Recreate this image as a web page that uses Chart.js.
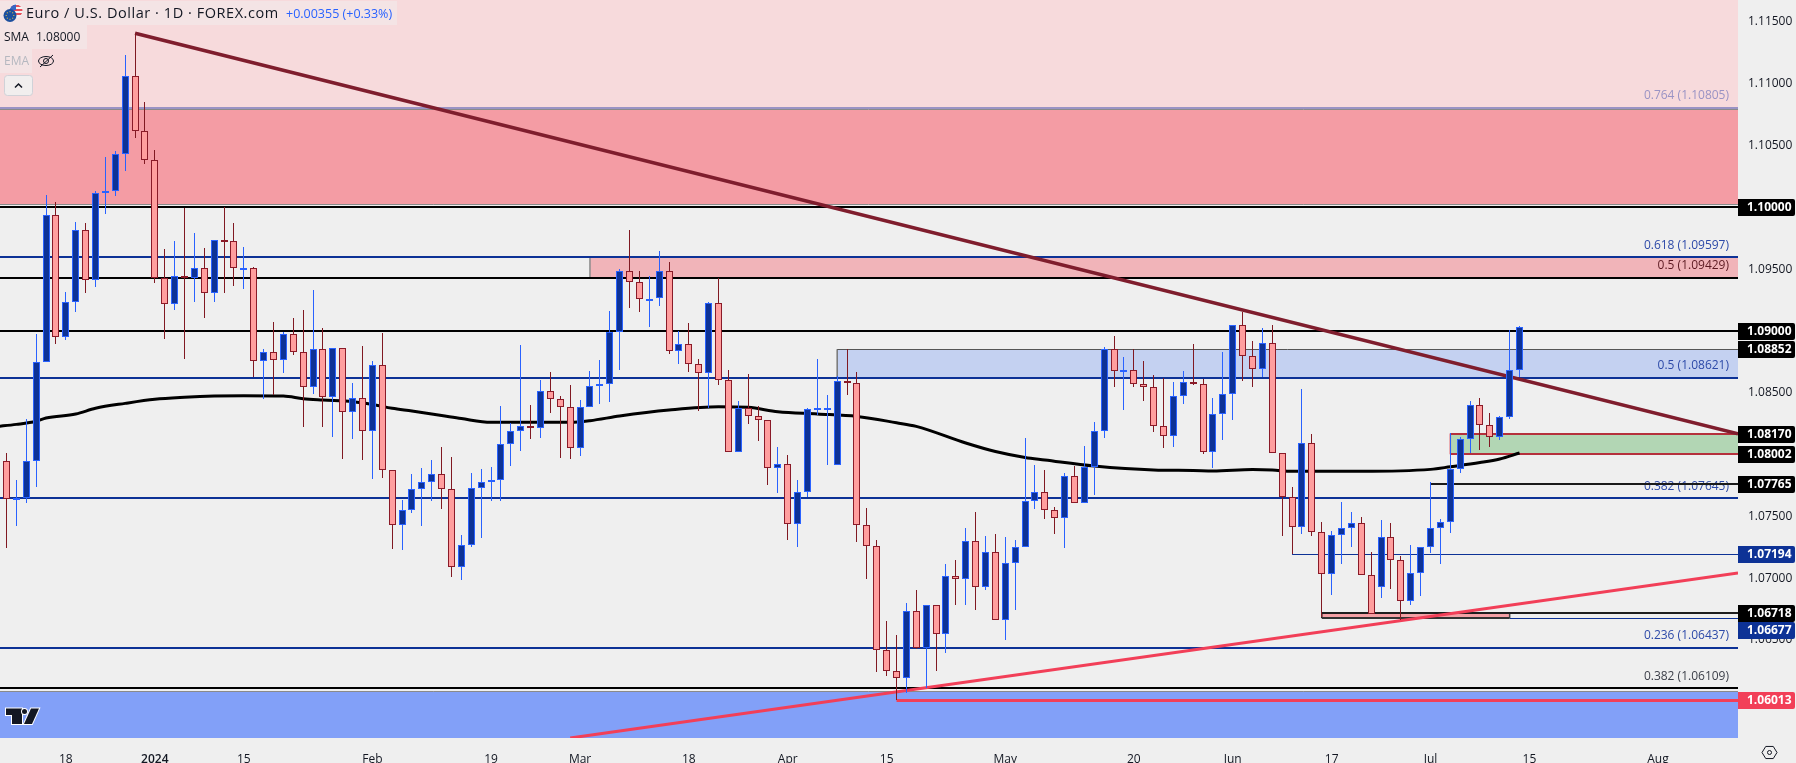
<!DOCTYPE html>
<html>
<head>
<meta charset="utf-8">
<title>EUR/USD 1D</title>
<script src="https://cdn.jsdelivr.net/npm/chart.js@4"></script>
<style>
  html, body { margin: 0; padding: 0; background: #efefef; overflow: hidden; }
  canvas { display: block; }
</style>
</head>
<body>
<canvas id="grafica" width="1796" height="763"></canvas>
<script>
// daily candles, bar 0 is 8 Dec 2023, bar 153 is 12 Jul 2024
const opens = [
  1.07945,1.07638,1.07646,1.07945,1.08746,1.09935,1.08948,1.09236,1.09814,1.09409,
  1.10113,1.10129,1.10429,1.11060,1.10615,1.10380,1.09426,1.09215,1.09447,1.09426,
  1.09506,1.09309,1.09733,1.09725,1.09505,1.09506,1.08754,1.08827,1.08762,1.08973,
  1.08827,1.08544,1.08851,1.08463,1.08859,1.08341,1.08455,1.08188,1.08722,1.07872,
  1.07427,1.07549,1.07719,1.07775,1.07840,1.07719,1.07088,1.07266,1.07727,1.07775,
  1.07791,1.08083,1.08188,1.08228,1.08212,1.08511,1.08447,1.08382,1.08050,1.08382,
  1.08552,1.08568,1.08989,1.09482,1.09393,1.09255,1.09264,1.09482,1.08835,1.08892,
  1.08730,1.08657,1.09223,1.08600,1.08018,1.08374,1.08309,1.08277,1.07888,1.07921,
  1.07435,1.07694,1.08366,1.08372,1.07913,1.08592,1.08576,1.07427,1.07257,1.06416,
  1.06246,1.06190,1.06732,1.06432,1.06780,1.06546,1.07015,1.06990,1.07298,1.06926,
  1.07209,1.06659,1.07120,1.07249,1.07621,1.07694,1.07549,1.07484,1.07824,1.07605,
  1.07897,1.08188,1.08851,1.08676,1.08681,1.08568,1.08544,1.08228,1.08147,1.08471,
  1.08584,1.08568,1.08018,1.08325,1.08487,1.09045,1.08795,1.08689,1.08900,1.08010,
  1.07654,1.07411,1.08091,1.07371,1.07031,1.07346,1.07403,1.07443,1.07023,1.06926,
  1.07330,1.07144,1.06812,1.07039,1.07249,1.07403,1.07452,1.07880,1.08123,1.08398,
  1.08236,1.08139,1.08301,1.08684
];
const highs = [
  1.08012,1.07794,1.08285,1.08973,1.10097,1.10043,1.09312,1.09881,1.09871,1.10129,
  1.10407,1.10453,1.11232,1.11408,1.10852,1.10461,1.09660,1.09725,1.09992,1.09790,
  1.09668,1.09733,1.10000,1.09871,1.09676,1.09515,1.08851,1.09070,1.08989,1.09102,
  1.09167,1.09328,1.09021,1.08859,1.08859,1.08576,1.08875,1.08754,1.08983,1.07872,
  1.07630,1.07840,1.07888,1.07956,1.08058,1.07980,1.07349,1.07848,1.07880,1.07897,
  1.08392,1.08253,1.08886,1.08398,1.08600,1.08665,1.08471,1.08560,1.08439,1.08673,
  1.08762,1.09159,1.09498,1.09814,1.09482,1.09442,1.09644,1.09555,1.08997,1.09062,
  1.08770,1.09231,1.09432,1.08681,1.08430,1.08649,1.08390,1.08277,1.08058,1.07994,
  1.07791,1.08374,1.08770,1.08479,1.08635,1.08851,1.08665,1.07565,1.07306,1.06651,
  1.06537,1.06796,1.06901,1.06780,1.06780,1.07112,1.07144,1.07403,1.07532,1.07338,
  1.07354,1.07330,1.07306,1.08131,1.07913,1.07872,1.07573,1.07848,1.07905,1.08066,
  1.08261,1.08867,1.08956,1.08786,1.08851,1.08754,1.08641,1.08621,1.08584,1.08673,
  1.08892,1.08608,1.08455,1.08827,1.09045,1.09150,1.08916,1.09021,1.09045,1.08010,
  1.07735,1.08528,1.08164,1.07452,1.07379,1.07613,1.07532,1.07492,1.07209,1.07468,
  1.07443,1.07177,1.07266,1.07249,1.07775,1.07476,1.08172,1.08139,1.08430,1.08455,
  1.08333,1.08309,1.09007,1.09040
];
const lows = [
  1.07246,1.07424,1.07610,1.07740,1.08746,1.08896,1.08929,1.09155,1.09307,1.09358,
  1.09948,1.10094,1.10294,1.10563,1.10353,1.09390,1.08937,1.09172,1.08775,1.09236,
  1.09107,1.09236,1.09307,1.09363,1.09341,1.08629,1.08452,1.08479,1.08662,1.08807,
  1.08225,1.08492,1.08225,1.08139,1.07966,1.08128,1.07956,1.07804,1.07812,1.07238,
  1.07230,1.07529,1.07424,1.07626,1.07562,1.07011,1.06985,1.07254,1.07327,1.07626,
  1.07626,1.07909,1.08031,1.08128,1.08136,1.08338,1.07974,1.07966,1.07990,1.08382,
  1.08411,1.08427,1.08686,1.09188,1.09155,1.09034,1.09204,1.08816,1.08735,1.08670,
  1.08354,1.08374,1.08562,1.08018,1.08018,1.08249,1.08112,1.07756,1.07691,1.07311,
  1.07254,1.07654,1.08320,1.07915,1.07913,1.08484,1.07295,1.06995,1.06238,1.06211,
  1.06016,1.06068,1.06424,1.06109,1.06246,1.06392,1.06785,1.06785,1.06745,1.06906,
  1.06659,1.06502,1.06745,1.07249,1.07559,1.07481,1.07359,1.07246,1.07605,1.07605,
  1.07675,1.08136,1.08549,1.08363,1.08549,1.08435,1.08185,1.08055,1.08063,1.08411,
  1.08560,1.08007,1.07893,1.08120,1.08282,1.08597,1.08549,1.08629,1.08010,1.07338,
  1.07193,1.07354,1.07338,1.06683,1.06866,1.07112,1.07252,1.07023,1.06707,1.06842,
  1.06914,1.06661,1.06780,1.06858,1.07206,1.07112,1.07367,1.07848,1.08010,1.08039,
  1.08063,1.08120,1.08285,1.08627
];
const closes = [
  1.07638,1.07646,1.07945,1.08746,1.09935,1.08948,1.09236,1.09814,1.09409,1.10113,
  1.10129,1.10429,1.11060,1.10615,1.10380,1.09426,1.09215,1.09447,1.09426,1.09506,
  1.09309,1.09733,1.09728,1.09506,1.09510,1.08754,1.08827,1.08762,1.08973,1.08827,
  1.08544,1.08851,1.08463,1.08859,1.08341,1.08455,1.08188,1.08722,1.07872,1.07427,
  1.07549,1.07719,1.07775,1.07840,1.07719,1.07088,1.07266,1.07727,1.07775,1.07791,
  1.08083,1.08188,1.08228,1.08212,1.08511,1.08447,1.08382,1.08050,1.08382,1.08552,
  1.08568,1.08989,1.09482,1.09393,1.09256,1.09260,1.09482,1.08835,1.08892,1.08730,
  1.08657,1.09223,1.08600,1.08018,1.08374,1.08309,1.08277,1.07888,1.07921,1.07435,
  1.07694,1.08366,1.08374,1.08377,1.08592,1.08576,1.07427,1.07257,1.06416,1.06246,
  1.06190,1.06732,1.06432,1.06780,1.06546,1.07015,1.06990,1.07298,1.06926,1.07209,
  1.06659,1.07120,1.07249,1.07621,1.07694,1.07549,1.07484,1.07824,1.07605,1.07897,
  1.08188,1.08851,1.08673,1.08681,1.08568,1.08544,1.08228,1.08147,1.08471,1.08584,
  1.08568,1.08018,1.08325,1.08487,1.09045,1.08795,1.08689,1.08900,1.08010,1.07654,
  1.07411,1.08091,1.07371,1.07031,1.07346,1.07403,1.07443,1.07023,1.06707,1.07330,
  1.07144,1.06812,1.07039,1.07249,1.07403,1.07452,1.07880,1.08123,1.08398,1.08236,
  1.08139,1.08301,1.08684,1.09034
];

// 200 day average at these bars
const smaBars = [-1,1,3,4,7,9,12,15,18,21,24,28,30,32,35,37,39,41,44,46,49,57,59,62,67,72,75,78,82,86,90,92,97,100,103,105,110,116,120,122,126,128,130,137,144,146,149,151,153];
const smaValues = [
  1.08227,1.08244,1.08269,1.08295,1.08328,1.08374,1.08414,1.08447,1.08463,1.08473,
  1.08476,1.08473,1.08452,1.08441,1.08427,1.08405,1.08374,1.08352,1.08316,1.08291,
  1.08261,1.08261,1.08274,1.08312,1.08360,1.08387,1.08382,1.08346,1.08328,1.08308,
  1.08257,1.08228,1.08093,1.08024,1.07976,1.07956,1.07907,1.07875,1.07871,1.07867,
  1.07879,1.07875,1.07864,1.07864,1.07880,1.07901,1.07935,1.07964,1.08012
];

// time axis
const tickBars = [6,15,24,37,49,58,69,79,89,101,114,124,134,144,154,167];
const tickNames = ['18','2024','15','Feb','19','Mar','18','Apr','15','May','20','Jun','17','Jul','15','Aug'];

// price axis
const priceTicks = [1.115,1.11,1.105,1.095,1.085,1.075,1.07,1.065];
const priceMin = 1.05707;
const priceMax = 1.11677;
const barMin = -0.657;
const barMax = 175.09;

// drawn levels: price, first bar
const levelPrices = [1.10805,1.10791,1.10023,1.10000,1.09597,1.09429,1.09000,1.08852,1.08621,1.08170,1.08002,1.07765,1.07645,1.07194,1.06718,1.06677,1.06677,1.06437,1.06109,1.06084,1.06013];
const levelStarts = [-1,-1,-1,-1,-1,-1,-1,84,-1,146,146,144,-1,130,133,133,152,-1,-1,-1,90];
const levelEnds = [barMax,barMax,barMax,barMax,barMax,barMax,barMax,barMax,barMax,barMax,barMax,barMax,barMax,barMax,barMax,152,barMax,barMax,barMax,barMax,barMax];
const levelColors = ['#9a93c4','#8a8a8a','#8a8a8a','#000000','#0d3296','#000000','#000000','#555555','#0d3296','#b5303c','#b5303c','#1a1a1a','#0d3296','#0d3296','#1e1e1e','#333333','#0d3296','#0d3296','#000000','#8a8a8a','#f23f58'];
const levelWidths = [2,1,1,2,2,2,2,1,2,2,2,2,2,1,2,2,1,2,2,1,3];

// shaded zones
const zoneStarts = [-1,-1,59,84,146,133,-1];
const zoneEnds = [barMax,barMax,barMax,barMax,barMax,152,barMax];
const zoneTops = [priceMax,1.10791,1.09597,1.08852,1.08170,1.06718,1.06084];
const zoneBottoms = [1.10805,1.10023,1.09429,1.08621,1.08002,1.06677,priceMin];
const zoneColors = ['#f7dadc','#f49ca4','#f1b4b9','#c4d1f1','#b2d6b4','#f4a0a5','#82a0f8'];

// left edges of the zones
const edgeBars = [59,84,146,133,152];
const edgeTops = [1.09597,1.08852,1.08170,1.06718,1.06718];
const edgeBottoms = [1.09429,1.08621,1.08002,1.06677,1.06677];
const edgeColors = ['#8a8a8a','#777777','#e0565f','#1e1e1e','#444444'];

// trend lines
const fallBars = [13,175.09];
const fallPrices = [1.11408,1.08168];
const riseBars = [57,175.09];
const risePrices = [1.05707,1.07041];

// retracement labels
const fibPrices = [1.10805,1.09597,1.09429,1.08621,1.07645,1.06437,1.06109];
const fibTexts = ['0.764 (1.10805)','0.618 (1.09597)','0.5 (1.09429)','0.5 (1.08621)','0.382 (1.07645)','0.236 (1.06437)','0.382 (1.06109)'];
const fibColors = ['#9a93c4','#2d4aa8','#5c1a22','#2d4aa8','#2d4aa8','#2d4aa8','#3c3f49'];

// price tags on the right
const tagPrices = [1.10000,1.09000,1.08852,1.08170,1.08002,1.07765,1.07194,1.06718,1.06677,1.06013];
const tagTexts = ['1.10000','1.09000','1.08852','1.08170','1.08002','1.07765','1.07194','1.06718','1.06677','1.06013'];
const tagColors = ['#000','#000','#000','#000','#000','#000','#0d3296','#000','#0d3296','#f23f58'];
const tagNudge = [0,0,0,0,0,0,0,0,12,0];

const axisFont = '"Open Sans", sans-serif';
const upFill = '#0d3296', upEdge = '#2962ff';
const downFill = '#ff9e9e', downEdge = '#8a1a28', downWick = '#801922';

const barIdx = opens.map((o, i) => i);
const isUp = opens.map((o, i) => closes[i] >= o);

function hline(x1, x2, y, color, width, order) {
  return { type: 'line', data: [{x: x1, y: y}, {x: x2, y: y}], borderColor: color, borderWidth: width,
    pointRadius: 0, fill: false, order: order, snap: true };
}

const conjuntos = [];

// candles
conjuntos.push({ type: 'bar', data: barIdx.map(i => ({x: i, y: [Math.min(opens[i], closes[i]), Math.max(opens[i], closes[i])]})),
  backgroundColor: isUp.map(u => u ? upFill : downFill), borderColor: isUp.map(u => u ? upEdge : downEdge),
  borderWidth: 1, borderSkipped: false, barThickness: 7, grouped: false, inflateAmount: 0, order: 1, body: true });
conjuntos.push({ type: 'bar', data: barIdx.map(i => ({x: i, y: [lows[i], highs[i]]})),
  backgroundColor: isUp.map(u => u ? upEdge : downWick), borderWidth: 0, barThickness: 1, grouped: false, inflateAmount: 0, order: 2 });

// trend lines and average
conjuntos.push({ type: 'line', data: fallBars.map((x, i) => ({x: x, y: fallPrices[i]})), borderColor: '#7f1d2d', borderWidth: 3.5, pointRadius: 0, fill: false, order: 3 });
conjuntos.push({ type: 'line', data: riseBars.map((x, i) => ({x: x, y: risePrices[i]})), borderColor: '#f23f58', borderWidth: 3, pointRadius: 0, fill: false, order: 3 });
conjuntos.push({ type: 'line', data: smaBars.map((x, i) => ({x: x, y: smaValues[i]})), borderColor: '#000', borderWidth: 3, pointRadius: 0, fill: false, cubicInterpolationMode: 'monotone', order: 4 });

// levels
levelPrices.forEach((p, i) => conjuntos.push(hline(levelStarts[i], levelEnds[i], p, levelColors[i], levelWidths[i], 5)));
edgeBars.forEach((b, i) => conjuntos.push({ type: 'line', data: [{x: b, y: edgeBottoms[i]}, {x: b, y: edgeTops[i]}], borderColor: edgeColors[i], borderWidth: 1.5, pointRadius: 0, fill: false, order: 5 }));

// zones
zoneTops.forEach((t, i) => conjuntos.push({ type: 'line', data: [{x: zoneStarts[i], y: t}, {x: zoneEnds[i], y: t}],
  borderWidth: 0, borderColor: 'rgba(0,0,0,0)', backgroundColor: zoneColors[i], pointRadius: 0, fill: {value: zoneBottoms[i]},
  order: i === 0 ? 19 : 20, lastZone: i === 0 }));

// keep candles and flat lines on whole pixels like the original
const ajustePixeles = {
  id: 'ajustePixeles',
  afterDatasetsUpdate(chart) {
    chart.data.datasets.forEach((ds, n) => {
      const meta = chart.getDatasetMeta(n);
      if (ds.type === 'bar') {
        meta.data.forEach(el => {
          el.x = Math.floor(el.x) + 0.5;
          el.y = Math.round(el.y);
          el.base = Math.round(el.base);
          if (ds.body && Math.abs(el.base - el.y) < 2) el.base = el.y + 2;
        });
      } else if (ds.snap) {
        meta.data.forEach(pt => {
          pt.y = ds.borderWidth % 2 ? Math.floor(pt.y) + 0.5 : Math.round(pt.y);
        });
      }
    });
  }
};

function fibLabels(chart) {
  const c = chart.ctx, y = chart.scales.y;
  c.save();
  c.font = '12px ' + axisFont;
  c.textAlign = 'right';
  c.textBaseline = 'middle';
  fibPrices.forEach((p, i) => {
    c.fillStyle = fibColors[i];
    c.fillText(fibTexts[i], 1729, y.getPixelForValue(p) - 12);
  });
  c.restore();
}

function tags(chart) {
  const c = chart.ctx, y = chart.scales.y;
  c.save();
  c.font = 'bold 12px ' + axisFont;
  c.textBaseline = 'middle';
  tagPrices.forEach((p, i) => {
    const py = Math.round(y.getPixelForValue(p)) + tagNudge[i];
    c.fillStyle = tagColors[i];
    c.beginPath();
    c.roundRect(1738, py - 8, 57, 17, [0, 2, 2, 0]);
    c.fill();
    c.fillStyle = '#fff';
    c.fillText(tagTexts[i], 1747, py + 1);
  });
  c.restore();
}

function legendBlock(chart) {
  const c = chart.ctx;
  c.save();
  c.fillStyle = 'rgba(239,239,239,0.45)';
  c.fillRect(0, 1, 397, 24);
  c.fillRect(0, 25, 87, 24);
  c.fillRect(0, 49, 32, 24);

  // euro and dollar coins
  c.fillStyle = '#f4f4f4';
  c.beginPath(); c.arc(16, 11, 7, 0, Math.PI * 2); c.fill();
  c.save();
  c.beginPath(); c.arc(16, 11, 6.5, 0, Math.PI * 2); c.clip();
  c.fillStyle = '#e8505b';
  [5, 9, 13].forEach(yy => c.fillRect(8, yy, 16, 2));
  c.fillStyle = '#3b66c4';
  c.fillRect(9, 4, 7, 6);
  c.restore();
  c.fillStyle = '#1c4f9e';
  c.beginPath(); c.arc(10, 15.5, 6.5, 0, Math.PI * 2); c.fill();
  c.fillStyle = '#f3c93b';
  for (let a = 0; a < 8; a++) {
    c.fillRect(10 + 3.8 * Math.cos(a * Math.PI / 4) - 0.5, 15.5 + 3.8 * Math.sin(a * Math.PI / 4) - 0.5, 1, 1);
  }

  c.textBaseline = 'middle';
  c.fillStyle = '#131722';
  c.font = '14.5px ' + axisFont;
  c.letterSpacing = '0.55px';
  c.fillText('Euro / U.S. Dollar · 1D · FOREX.com', 26, 14);
  c.letterSpacing = '0px';
  c.fillStyle = '#2962ff';
  c.font = '12.5px ' + axisFont;
  c.fillText('+0.00355 (+0.33%)', 286, 14);
  c.fillStyle = '#131722';
  c.font = '12px ' + axisFont;
  c.fillText('SMA', 4, 38);
  c.fillText('1.08000', 36, 38);
  c.fillStyle = '#b5b8c0';
  c.fillText('EMA', 4, 62);

  // hidden eye
  c.strokeStyle = '#131722';
  c.lineWidth = 1;
  c.beginPath(); c.ellipse(46, 61, 7.5, 4.5, 0, 0, Math.PI * 2); c.stroke();
  c.beginPath(); c.arc(46, 61, 2.5, 0, Math.PI * 2); c.stroke();
  c.beginPath(); c.moveTo(40, 67); c.lineTo(53, 55); c.stroke();

  // collapse button
  c.fillStyle = 'rgba(240,240,240,0.9)';
  c.strokeStyle = '#d0d2d8';
  c.beginPath(); c.roundRect(4.5, 75.5, 28, 20, 3); c.fill(); c.stroke();
  c.strokeStyle = '#131722';
  c.lineWidth = 1.5;
  c.beginPath(); c.moveTo(15, 87.5); c.lineTo(18.5, 84); c.lineTo(22, 87.5); c.stroke();

  // logo
  c.fillStyle = '#131722';
  c.strokeStyle = '#fff';
  c.lineWidth = 2;
  c.beginPath();
  c.moveTo(6, 708.5); c.lineTo(22, 708.5); c.lineTo(22, 724); c.lineTo(12, 724); c.lineTo(12, 715); c.lineTo(6, 715); c.closePath();
  c.stroke(); c.fill();
  c.beginPath();
  c.moveTo(31, 708.5); c.lineTo(39, 708.5); c.lineTo(32, 724); c.lineTo(24, 724); c.closePath();
  c.stroke(); c.fill();
  c.beginPath(); c.arc(24.5, 711.5, 2.5, 0, Math.PI * 2); c.stroke(); c.fill();

  // settings
  c.strokeStyle = '#131722';
  c.lineWidth = 1;
  c.beginPath();
  for (let a = 0; a < 6; a++) {
    const px = 1769.5 + 7.5 * Math.cos(a * Math.PI / 3), py = 752.5 + 7 * Math.sin(a * Math.PI / 3);
    if (a === 0) c.moveTo(px, py); else c.lineTo(px, py);
  }
  c.closePath(); c.stroke();
  c.beginPath(); c.arc(1769.5, 752.5, 2, 0, Math.PI * 2); c.stroke();
  c.restore();
}

const textos = {
  id: 'textos',
  afterDatasetDraw(chart, args) {
    if (chart.data.datasets[args.index].lastZone) fibLabels(chart);
  },
  afterDraw(chart) {
    tags(chart);
    legendBlock(chart);
  }
};

// no room is kept around the plot for half tick labels
function noPadding(scale) {
  scale.paddingLeft = 0;
  scale.paddingRight = 0;
  scale.paddingTop = 0;
  scale.paddingBottom = 0;
}

const grafica = new Chart(document.getElementById('grafica').getContext('2d'), {
  type: 'bar',
  data: { datasets: conjuntos },
  plugins: [ajustePixeles, textos],
  options: {
    responsive: false,
    animation: false,
    events: [],
    layout: { padding: 0 },
    plugins: { legend: { display: false }, tooltip: { enabled: false } },
    scales: {
      x: {
        type: 'linear', min: barMin, max: barMax, offset: false,
        grid: { display: false }, border: { display: false },
        afterBuildTicks(scale) { scale.ticks = tickBars.map(v => ({value: v})); },
        afterFit(scale) { scale.height = 25; noPadding(scale); },
        ticks: {
          autoSkip: false, maxRotation: 0, padding: 6, color: '#131722',
          font: ctx => ({ family: axisFont, size: 12, weight: ctx.tick && ctx.tick.value === 15 ? '600' : '400' }),
          callback: v => tickNames[tickBars.indexOf(v)]
        }
      },
      y: {
        position: 'right', min: priceMin, max: priceMax,
        grid: { display: false, drawTicks: false }, border: { display: false },
        afterBuildTicks(scale) { scale.ticks = priceTicks.map(v => ({value: v})); },
        afterFit(scale) { scale.width = 58; noPadding(scale); },
        ticks: {
          autoSkip: false, padding: 10, color: '#131722',
          font: { family: axisFont, size: 12 },
          callback: v => v.toFixed(5)
        }
      }
    }
  }
});
</script>
</body>
</html>
